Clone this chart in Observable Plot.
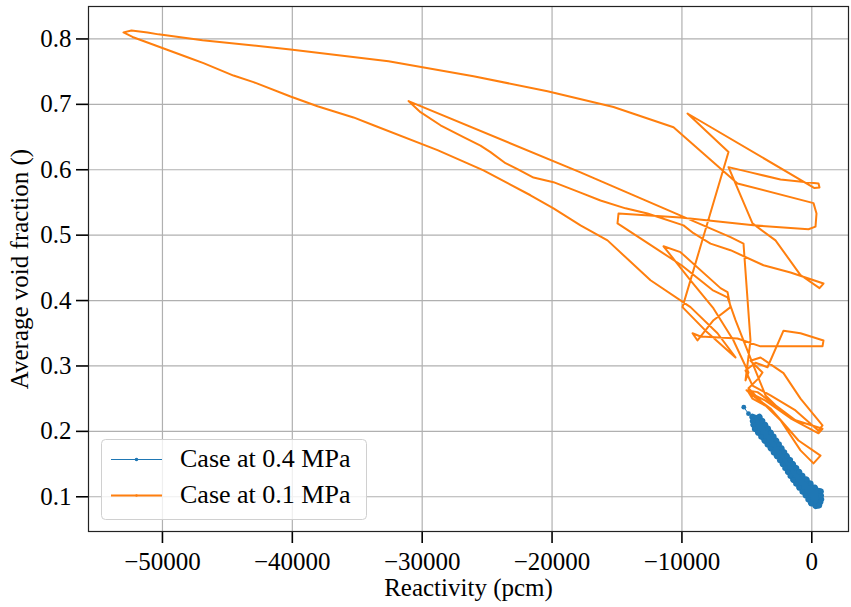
<!DOCTYPE html>
<html>
<head>
<meta charset="utf-8">
<script src="https://cdn.jsdelivr.net/npm/d3@7"></script>
<script src="https://cdn.jsdelivr.net/npm/@observablehq/plot@0.6"></script>
<style>
  body { margin: 0; background: #fff; }
  #wrap { position: relative; width: 851px; height: 607px; }
  #legend { position: absolute; left: 101px; top: 439px; }
</style>
</head>
<body>
<div id="wrap"></div>
<script>
// ---- data ----
const seriesNames = ["Case at 0.4 MPa", "Case at 0.1 MPa"];
const seriesColors = ["#1f77b4", "#ff7f0e"];

const xTicks = [-50000, -40000, -30000, -20000, -10000, 0];
const yTicks = [0.1, 0.2, 0.3, 0.4, 0.5, 0.6, 0.7, 0.8];

// Case at 0.4 MPa (dense band, traced edge to edge, down then back up)
const blueX = [-5236, -4875, -4560, -3830, -4480, -3390, -4120, -2960, -3630, -2550, -3150, -2140,
  -2670, -1690, -2220, -1220, -1820, -740, -1420, -110, -950, 680, -460, 710, -40, 650, 300, 550,
  -241, 690, -702, 225, -1188, -410, -1624, -983, -2025, -1467, -2430, -1942, -2910, -2346, -3390,
  -2751, -3877, -3172, -4365, -3606, -4524, -4040];
const blueY = [0.237, 0.227, 0.222, 0.216, 0.210, 0.204, 0.198, 0.192, 0.186, 0.180, 0.174, 0.168,
  0.162, 0.156, 0.150, 0.144, 0.138, 0.132, 0.126, 0.120, 0.114, 0.108, 0.102, 0.096, 0.090, 0.092, 0.086, 0.087,
  0.096, 0.102, 0.108, 0.114, 0.120, 0.126, 0.132, 0.138, 0.144, 0.150, 0.156, 0.162, 0.168, 0.174, 0.180,
  0.186, 0.192, 0.198, 0.204, 0.210, 0.216, 0.222];

// Case at 0.1 MPa (trajectory)
const orangeX = [-3180, -4566, -5028, -4181, -2795, -1255, 824, 516, -1640, -3565, -4874, -4566, -3180,
  -1024, 670, 131, -870, -2410, -3950, -4874, -4104, -3796, -4720, -3950, -2179, -870, 824, 516, -1255,
  -3180, -4566, -5105, -4335, -3411, -2179, -870, 901, 824, -1640, -3950, -5721, -8570, -9186, -8801,
  -7569, -6260, -6491, -7030, -10110, -11419, -9340, -7569, -6029, -5490, -4874, -5105, -4720, -5259,
  -6260, -17810, -31054, -30130, -28590, -26819, -25510, -24740, -23585, -22661, -21429, -19889, -17810,
  -16270, -14345, -12651, -9879, -9109, -7800, -6260, -3719, -1640, 901, 593, -870, -2795, -4566, -6414,
  -4720, -2410, 516, 593, 208, -9571, -6414, -9956, -8185, -5875, -7261, -9340, -12420, -15731, -17810,
  -19889, -21660, -25279, -28821, -33749, -35289, -38061, -40140, -42989, -44529, -46839, -48071, -52306,
  -52999, -52383, -51151, -50304, -46916, -40140, -32594, -26049, -20351, -15269, -10649, -5721, 131, 362,
  285, -254, -4489, -10110, -14884, -14961, -12574, -10033, -7646, -6491, -5875, -5105, -4335, -3565, -2795];
const orangeY = [0.235, 0.255, 0.263, 0.260, 0.240, 0.217, 0.204, 0.197, 0.220, 0.247, 0.260, 0.250, 0.235,
  0.186, 0.163, 0.151, 0.171, 0.217, 0.247, 0.266, 0.281, 0.290, 0.308, 0.313, 0.289, 0.250, 0.209, 0.201, 0.232,
  0.255, 0.270, 0.293, 0.305, 0.298, 0.354, 0.350, 0.339, 0.330, 0.330, 0.330, 0.342, 0.345, 0.350, 0.339,
  0.370, 0.390, 0.413, 0.419, 0.474, 0.483, 0.431, 0.388, 0.339, 0.316, 0.290, 0.278, 0.339, 0.487,
  0.497, 0.596, 0.705, 0.688, 0.668, 0.650, 0.637, 0.627, 0.610, 0.601, 0.588, 0.581, 0.565,
  0.553, 0.541, 0.533, 0.515, 0.503, 0.487, 0.477, 0.454, 0.443, 0.426, 0.419, 0.439, 0.492, 0.518, 0.604,
  0.596, 0.585, 0.579, 0.573, 0.572, 0.686, 0.627, 0.390, 0.354, 0.313, 0.350, 0.390, 0.431, 0.492, 0.515,
  0.541, 0.561, 0.599, 0.630, 0.668, 0.680, 0.697, 0.712, 0.734, 0.744, 0.763, 0.772, 0.803,
  0.810, 0.813, 0.810, 0.807, 0.798, 0.784, 0.766, 0.743, 0.720, 0.696, 0.665, 0.579, 0.549, 0.533,
  0.513, 0.509, 0.515, 0.527, 0.533, 0.518, 0.487, 0.454, 0.416, 0.405, 0.370, 0.331, 0.293, 0.255, 0.240];

const blue = blueX.map((x, i) => ({x, y: blueY[i], i}));
const orange = orangeX.map((x, i) => ({x, y: orangeY[i]}));

const font = "'Liberation Serif', 'Times New Roman', serif";

const chart = Plot.plot({
  width: 851,
  height: 607,
  marginLeft: 88,
  marginRight: 3,
  marginTop: 6,
  marginBottom: 76,
  style: {fontFamily: font, fontSize: "25px", background: "#fff", color: "#000", overflow: "visible"},
  x: {domain: [-55694, 2826]},
  y: {domain: [0.0469, 0.8496]},
  marks: [
    Plot.gridX({ticks: xTicks, stroke: "#b0b0b0", strokeOpacity: 1, strokeWidth: 1.2}),
    Plot.gridY({ticks: yTicks, stroke: "#b0b0b0", strokeOpacity: 1, strokeWidth: 1.2}),
    Plot.line(blue, {x: "x", y: "y", stroke: seriesColors[0], strokeWidth: 1}),
    Plot.line(blue, {x: "x", y: "y", stroke: seriesColors[0], strokeWidth: 6.5, filter: d => d.i >= 2, strokeLinejoin: "round", strokeLinecap: "round"}),
    Plot.dot(blue, {x: "x", y: "y", r: 2.4, fill: seriesColors[0], stroke: "none"}),
    Plot.line(orange, {x: "x", y: "y", stroke: seriesColors[1], strokeWidth: 2, strokeLinejoin: "round"}),
    Plot.axisX({ticks: xTicks, tickFormat: d3.format("d"), tickSize: 12, tickPadding: 9, fontSize: 25,
      stroke: "#000", strokeWidth: 1.6, label: "Reactivity (pcm)", labelAnchor: "center", labelArrow: "none", labelOffset: 64}),
    Plot.axisY({ticks: yTicks, tickFormat: d3.format(".1f"), tickSize: 12, tickPadding: 5, fontSize: 25,
      stroke: "#000", strokeWidth: 1.6, label: "Average void fraction ()", labelAnchor: "center", labelArrow: "none", labelOffset: 78}),
    Plot.frame({stroke: "#222", strokeWidth: 1.2})
  ]
});

const wrap = document.getElementById("wrap");
wrap.appendChild(chart);

// legend overlay
const ns = "http://www.w3.org/2000/svg";
const lg = document.createElementNS(ns, "svg");
lg.setAttribute("id", "legend");
lg.setAttribute("width", 267);
lg.setAttribute("height", 82);
lg.style.fontFamily = font;
const rect = document.createElementNS(ns, "rect");
rect.setAttribute("x", 0.5); rect.setAttribute("y", 0.5);
rect.setAttribute("width", 265); rect.setAttribute("height", 80);
rect.setAttribute("rx", 4);
rect.setAttribute("fill", "rgba(255,255,255,0.8)");
rect.setAttribute("stroke", "#d0d0d0");
lg.appendChild(rect);
seriesNames.forEach((name, k) => {
  const cy = k === 0 ? 20.5 : 56.5;
  const ln = document.createElementNS(ns, "line");
  ln.setAttribute("x1", 10); ln.setAttribute("x2", 61);
  ln.setAttribute("y1", cy); ln.setAttribute("y2", cy);
  ln.setAttribute("stroke", seriesColors[k]);
  ln.setAttribute("stroke-width", k === 0 ? 1 : 2);
  lg.appendChild(ln);
  const c = document.createElementNS(ns, "circle");
  c.setAttribute("cx", 35.5); c.setAttribute("cy", cy); c.setAttribute("r", k === 0 ? 1.8 : 1.2);
  c.setAttribute("fill", seriesColors[k]);
  lg.appendChild(c);
  const t = document.createElementNS(ns, "text");
  t.setAttribute("x", 79); t.setAttribute("y", k === 0 ? 28 : 64);
  t.setAttribute("font-size", 26);
  t.setAttribute("fill", "#000");
  t.textContent = name;
  lg.appendChild(t);
});
wrap.appendChild(lg);
</script>
</body>
</html>
